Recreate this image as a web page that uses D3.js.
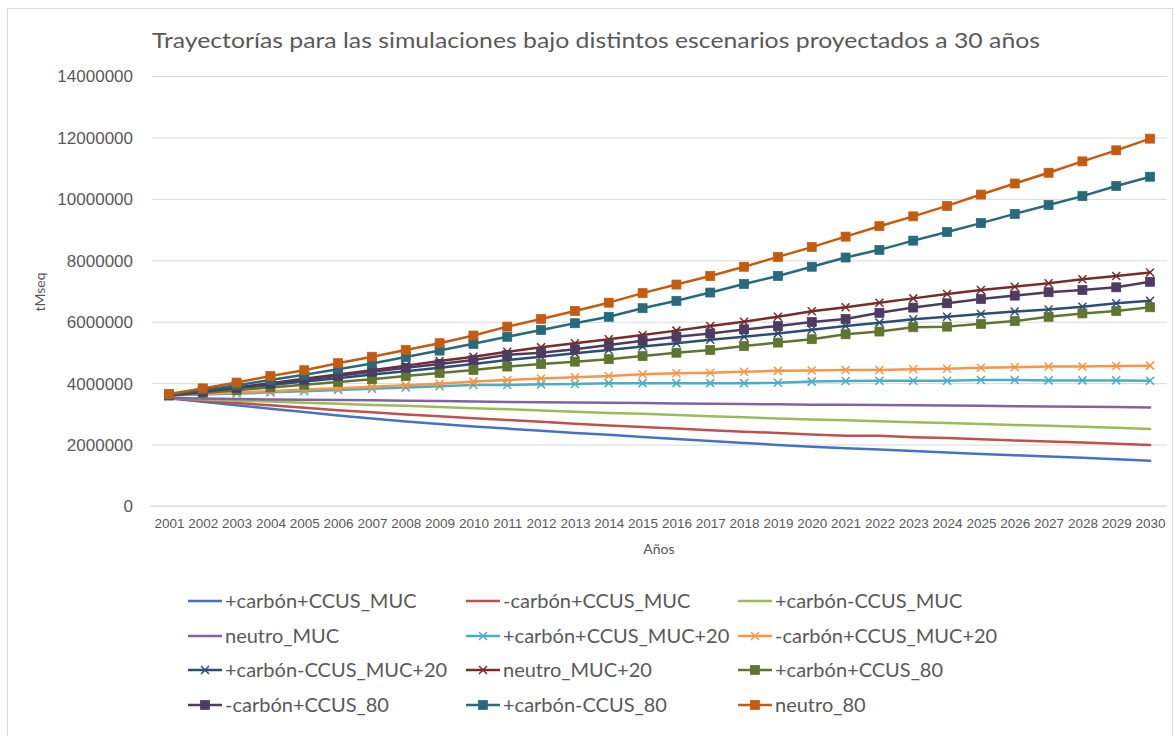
<!DOCTYPE html>
<html>
<head>
<meta charset="utf-8">
<script src="https://cdn.jsdelivr.net/npm/d3@7"></script>
<style>
  html, body { margin: 0; padding: 0; background: #ffffff; }
  svg { display: block; font-family: Lato, "Open Sans", sans-serif; }
</style>
</head>
<body>
<svg id="chart" width="1175" height="736"></svg>
<script>
// Años del periodo simulado
const years = d3.range(2001, 2031).map(String);

// Valores en millones de tMseq por escenario
const carbonCcusMuc       = [3.51,3.39,3.28,3.17,3.06,2.95,2.85,2.75,2.67,2.59,2.52,2.45,2.38,2.32,2.25,2.18,2.12,2.05,1.99,1.93,1.88,1.84,1.79,1.74,1.69,1.65,1.61,1.57,1.52,1.47];
const menosCarbonCcusMuc  = [3.51,3.43,3.35,3.28,3.20,3.12,3.05,2.98,2.92,2.86,2.80,2.74,2.68,2.62,2.57,2.52,2.47,2.42,2.38,2.33,2.29,2.29,2.24,2.21,2.17,2.13,2.10,2.07,2.03,1.99];
const carbonSinCcusMuc    = [3.51,3.47,3.43,3.40,3.36,3.33,3.29,3.26,3.22,3.18,3.15,3.11,3.07,3.03,3.00,2.96,2.92,2.89,2.85,2.82,2.79,2.76,2.73,2.70,2.67,2.64,2.61,2.58,2.55,2.51];
const neutroMuc           = [3.51,3.50,3.48,3.47,3.46,3.45,3.44,3.43,3.42,3.40,3.39,3.38,3.37,3.36,3.35,3.34,3.33,3.32,3.31,3.30,3.30,3.29,3.28,3.27,3.26,3.25,3.24,3.23,3.22,3.21];
const carbonCcusMuc20     = [3.60,3.63,3.66,3.70,3.74,3.78,3.82,3.86,3.90,3.94,3.94,3.96,3.97,4.00,4.00,4.00,4.00,4.00,4.01,4.05,4.07,4.08,4.08,4.08,4.10,4.10,4.09,4.09,4.09,4.08];
const menosCarbonCcusMuc20= [3.60,3.65,3.70,3.74,3.79,3.83,3.88,3.93,3.98,4.05,4.10,4.15,4.19,4.23,4.29,4.32,4.34,4.37,4.40,4.41,4.43,4.43,4.45,4.47,4.50,4.52,4.54,4.54,4.56,4.57];
const carbonSinCcusMuc20  = [3.60,3.71,3.83,3.94,4.05,4.16,4.28,4.39,4.50,4.62,4.75,4.86,4.97,5.08,5.19,5.30,5.41,5.51,5.62,5.74,5.86,5.97,6.08,6.16,6.25,6.33,6.40,6.49,6.60,6.68];
const neutroMuc20         = [3.60,3.73,3.86,4.00,4.14,4.28,4.42,4.57,4.72,4.86,5.02,5.17,5.30,5.43,5.57,5.71,5.86,6.00,6.16,6.34,6.47,6.62,6.76,6.90,7.03,7.14,7.25,7.38,7.49,7.60];
const carbonCcus80        = [3.60,3.68,3.77,3.86,3.95,4.04,4.13,4.23,4.33,4.43,4.54,4.62,4.70,4.78,4.88,4.99,5.08,5.21,5.32,5.43,5.59,5.68,5.82,5.84,5.93,6.02,6.16,6.27,6.35,6.47];
const menosCarbonCcus80   = [3.60,3.72,3.85,3.98,4.11,4.24,4.37,4.50,4.62,4.75,4.92,4.99,5.10,5.24,5.38,5.51,5.62,5.75,5.86,5.99,6.09,6.29,6.46,6.60,6.74,6.85,6.96,7.03,7.12,7.30];
const carbonSinCcus80     = [3.62,3.78,3.93,4.10,4.27,4.45,4.64,4.85,5.06,5.28,5.51,5.73,5.95,6.16,6.44,6.68,6.95,7.23,7.49,7.79,8.09,8.34,8.64,8.92,9.21,9.51,9.80,10.09,10.42,10.72];
const neutro80            = [3.65,3.83,4.02,4.23,4.42,4.65,4.86,5.08,5.30,5.55,5.84,6.09,6.35,6.62,6.93,7.21,7.49,7.79,8.11,8.43,8.77,9.11,9.43,9.77,10.14,10.50,10.85,11.22,11.58,11.96];

const seriesNames = [
  "+carbón+CCUS_MUC", "-carbón+CCUS_MUC", "+carbón-CCUS_MUC",
  "neutro_MUC", "+carbón+CCUS_MUC+20", "-carbón+CCUS_MUC+20",
  "+carbón-CCUS_MUC+20", "neutro_MUC+20", "+carbón+CCUS_80",
  "-carbón+CCUS_80", "+carbón-CCUS_80", "neutro_80"
];
const seriesValues = [
  carbonCcusMuc, menosCarbonCcusMuc, carbonSinCcusMuc,
  neutroMuc, carbonCcusMuc20, menosCarbonCcusMuc20,
  carbonSinCcusMuc20, neutroMuc20, carbonCcus80,
  menosCarbonCcus80, carbonSinCcus80, neutro80
];
const seriesColors = [
  "#4472C4", "#C0504D", "#9BBB59",
  "#8064A2", "#4BACC6", "#F79646",
  "#2C4D75", "#772C2A", "#5F7530",
  "#4D3B62", "#276A7C", "#C55A11"
];
const seriesMarkers = [
  "none", "none", "none",
  "none", "x", "x",
  "x", "x", "square",
  "square", "square", "square"
];

const yTicks = [0, 2000000, 4000000, 6000000, 8000000, 10000000, 12000000, 14000000];

const title = "Trayectorías para las simulaciones bajo distintos escenarios proyectados a 30 años";
const xTitle = "Años";
const yTitle = "tMseq";

const series = seriesNames.map((name, i) => ({
  name,
  color: seriesColors[i],
  marker: seriesMarkers[i],
  values: seriesValues[i].map((v, j) => ({ year: years[j], value: v * 1e6 }))
}));

const svg = d3.select("#chart");

// Marco del gráfico
svg.append("rect")
  .attr("x", 7.5).attr("y", 8.5).attr("width", 1165).attr("height", 740)
  .attr("fill", "#ffffff").attr("stroke", "#d9d9d9").attr("stroke-width", 1);

const plot = { left: 152, right: 1167, top: 76, bottom: 506 };

const x = d3.scalePoint().domain(years).range([plot.left, plot.right]).padding(0.5);
const y = d3.scaleLinear().domain([0, 14000000]).range([plot.bottom, plot.top]);

// Título
svg.append("text")
  .attr("x", 596).attr("y", 48)
  .attr("text-anchor", "middle")
  .attr("fill", "#595959")
  .attr("font-size", 22)
  .attr("textLength", 888).attr("lengthAdjust", "spacingAndGlyphs")
  .text(title);

// Líneas de cuadrícula y eje Y
const yAxis = d3.axisLeft(y).tickValues(yTicks).tickSize(-(plot.right - plot.left)).tickPadding(19)
  .tickFormat(d3.format("d"));
const gy = svg.append("g").attr("transform", `translate(${plot.left},0)`).call(yAxis);
gy.select(".domain").remove();
gy.selectAll(".tick line").attr("stroke", "#d9d9d9").attr("stroke-width", 1);
gy.selectAll(".tick text").attr("fill", "#595959").attr("font-size", 17).attr("dy", "0.35em");

// Eje X
const xAxis = d3.axisBottom(x).tickSize(0).tickPadding(12);
const gx = svg.append("g").attr("transform", `translate(0,${plot.bottom})`).call(xAxis);
gx.select(".domain").attr("stroke", "#d9d9d9").attr("stroke-width", 1)
  .attr("d", `M${plot.left - 2},0H${plot.right}`);
gx.selectAll(".tick text").attr("fill", "#595959").attr("font-size", 13.5);

// Títulos de ejes
svg.append("text")
  .attr("x", 659).attr("y", 554)
  .attr("text-anchor", "middle").attr("fill", "#595959").attr("font-size", 14)
  .text(xTitle);
svg.append("text")
  .attr("transform", "translate(45,292) rotate(-90)")
  .attr("text-anchor", "middle").attr("fill", "#595959").attr("font-size", 14)
  .text(yTitle);

// Símbolos de marcador
function drawMarker(g, type, cx, cy, color) {
  if (type === "square") {
    g.append("rect")
      .attr("x", cx - 4.5).attr("y", cy - 4.5).attr("width", 9).attr("height", 9)
      .attr("fill", color).attr("stroke", color).attr("stroke-width", 0.75);
  } else if (type === "x") {
    const s = 4;
    g.append("path")
      .attr("d", `M${cx - s},${cy - s}L${cx + s},${cy + s}M${cx - s},${cy + s}L${cx + s},${cy - s}`)
      .attr("stroke", color).attr("stroke-width", 1.5).attr("fill", "none");
  }
}

// Series
const line = d3.line().x(d => x(d.year)).y(d => y(d.value));
const gSeries = svg.append("g");
series.forEach(s => {
  const g = gSeries.append("g");
  g.append("path")
    .attr("d", line(s.values))
    .attr("fill", "none")
    .attr("stroke", s.color)
    .attr("stroke-width", 2.5)
    .attr("stroke-linejoin", "round")
    .attr("stroke-linecap", "round");
  if (s.marker !== "none") {
    s.values.forEach(d => drawMarker(g, s.marker, x(d.year), y(d.value), s.color));
  }
});

// Leyenda
const legendCols = [188, 466, 738];
const legendRows = [601, 636, 670, 705];
const gLegend = svg.append("g");
series.forEach((s, i) => {
  const cx = legendCols[i % 3];
  const cy = legendRows[Math.floor(i / 3)];
  const g = gLegend.append("g");
  g.append("line")
    .attr("x1", cx).attr("x2", cx + 34).attr("y1", cy).attr("y2", cy)
    .attr("stroke", s.color).attr("stroke-width", 2.5);
  if (s.marker !== "none") drawMarker(g, s.marker, cx + 17, cy, s.color);
  g.append("text")
    .attr("x", cx + 37).attr("y", cy).attr("dy", "0.35em")
    .attr("fill", "#595959").attr("font-size", 20)
    .text(s.name);
});
</script>
</body>
</html>
